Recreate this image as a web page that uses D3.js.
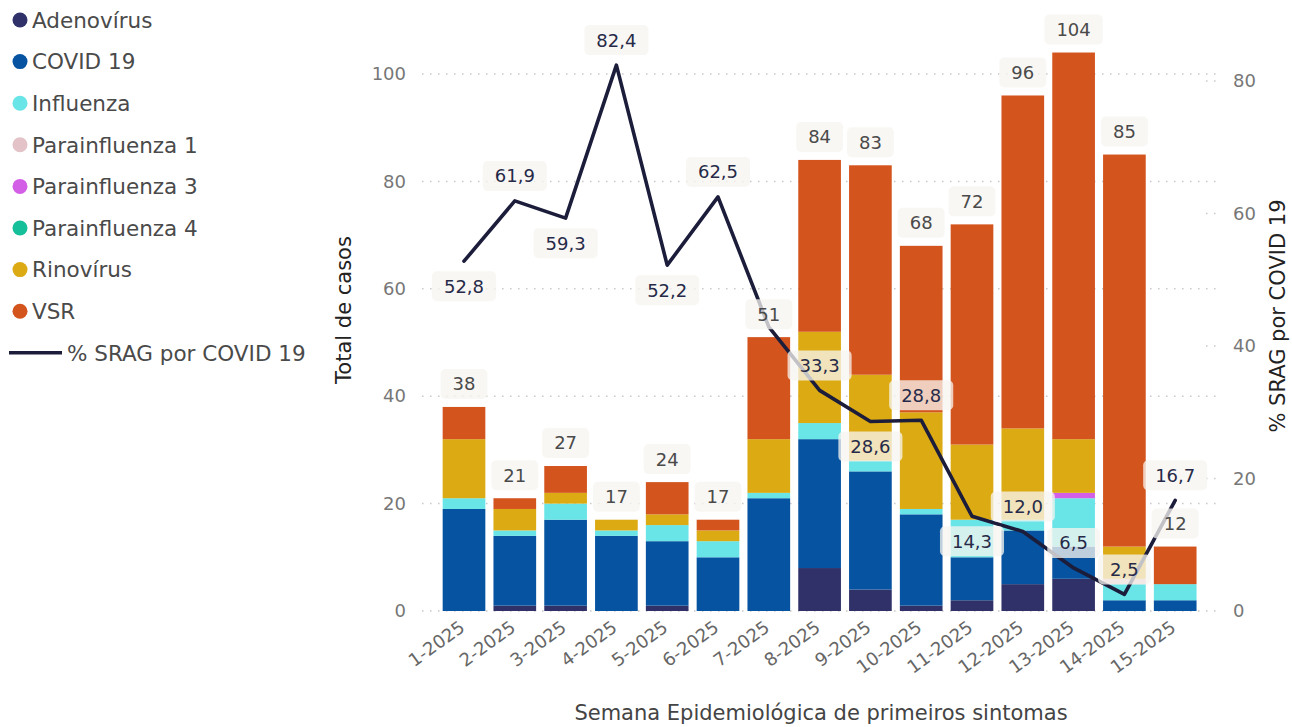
<!DOCTYPE html>
<html>
<head>
<meta charset="utf-8">
<script src="https://cdn.jsdelivr.net/npm/d3@7"></script>
<style>
  html, body { margin: 0; padding: 0; background: #fff; }
  svg { display: block; font-family: "DejaVu Sans", Verdana, sans-serif; }
</style>
</head>
<body>
<svg id="chart" width="1292" height="727"></svg>
<script>
// ---- data ----
const weeks = ["1-2025","2-2025","3-2025","4-2025","5-2025","6-2025","7-2025","8-2025","9-2025","10-2025","11-2025","12-2025","13-2025","14-2025","15-2025"];
const adenovirus     = [0, 1, 1, 0, 1, 0, 0, 8, 4, 1, 2, 5, 6, 0, 0];
const covid19        = [19,13,16,14,12,10,21,24,22,17, 8,10, 6, 2, 2];
const influenza      = [2, 1, 3, 1, 3, 3, 1, 3, 2, 1, 7, 2, 9, 3, 3];
const parainfluenza1 = [0, 0, 0, 0, 0, 0, 0, 0, 0, 0, 0, 0, 0, 1, 0];
const parainfluenza3 = [0, 0, 0, 0, 0, 0, 0, 0, 0, 0, 0, 0, 1, 0, 0];
const parainfluenza4 = [0, 0, 0, 0, 0, 0, 0, 0, 0, 0, 0, 0, 0, 0, 0];
const rinovirus      = [11,4, 2, 2, 2, 2,10,17,16,18,14,17,10, 6, 0];
const vsr            = [6, 2, 5, 0, 6, 2,19,32,39,31,41,62,72,73, 7];
const pctCovid       = [52.8,61.9,59.3,82.4,52.2,62.5,42.9,33.3,28.6,28.8,14.3,12.0,6.5,2.5,16.7];
const leftTicks  = [0,20,40,60,80,100];
const rightTicks = [0,20,40,60,80];

// label placement for line labels: 1 below, -1 above, 0 hidden
const pctLabelSide = [1,-1,1,-1,1,-1,0,-1,1,-1,1,-1,-1,-1,-1];

const seriesNames  = ["Adenovírus","COVID 19","Influenza","Parainfluenza 1","Parainfluenza 3","Parainfluenza 4","Rinovírus","VSR"];
const seriesValues = [adenovirus, covid19, influenza, parainfluenza1, parainfluenza3, parainfluenza4, rinovirus, vsr];
const seriesColors = ["#2f3168","#0553a1","#69e4e7","#e3c3c8","#d35fe6","#14bf99","#dcaa13","#d4541e"];
const lineName  = "% SRAG por COVID 19";
const lineColor = "#1c1d3b";

// ---- build table ----
const rows = weeks.map((w, i) => {
  const r = { week: w };
  seriesNames.forEach((s, k) => r[s] = seriesValues[k][i]);
  r.total = seriesValues.reduce((a, arr) => a + arr[i], 0);
  r.pct = pctCovid[i];
  r.side = pctLabelSide[i];
  return r;
});

const svg = d3.select("#chart");
const x = d3.scaleBand().domain(weeks).range([438.6, 1200.6]).paddingInner(0.16).paddingOuter(0.08);
const y = d3.scaleLinear().domain([0, 100]).range([611, 74]);
const yR = d3.scaleLinear().domain([0, 80]).range([611, 81]);

const fmt = v => d3.format(".1f")(v).replace(".", ",");

// gridlines (left axis)
svg.append("g").selectAll("line").data(leftTicks).join("line")
  .attr("x1", 422).attr("x2", 1217)
  .attr("y1", d => y(d)).attr("y2", d => y(d))
  .attr("stroke", "#c8c8c8").attr("stroke-width", 1.5)
  .attr("stroke-dasharray", "1.5,6.5");
// short right-axis grid stubs
svg.append("g").selectAll("line").data(rightTicks.filter(d => d > 0)).join("line")
  .attr("x1", 1206).attr("x2", 1218)
  .attr("y1", d => yR(d)).attr("y2", d => yR(d))
  .attr("stroke", "#c8c8c8").attr("stroke-width", 1.5)
  .attr("stroke-dasharray", "1.5,6.5");

// left axis
const gL = svg.append("g").attr("transform", "translate(408,0)")
  .call(d3.axisLeft(y).tickValues(leftTicks).tickSize(0).tickPadding(2));
gL.select(".domain").remove();
gL.selectAll("text").attr("font-size", 18).attr("fill", "#777").attr("font-family", "DejaVu Sans");

// right axis
const gR = svg.append("g").attr("transform", "translate(1231,0)")
  .call(d3.axisRight(yR).tickValues(rightTicks).tickSize(0).tickPadding(2));
gR.select(".domain").remove();
gR.selectAll("text").attr("font-size", 18).attr("fill", "#777").attr("font-family", "DejaVu Sans");

// x axis labels
const gX = svg.append("g").attr("transform", "translate(0,611)")
  .call(d3.axisBottom(x).tickSize(0).tickPadding(0));
gX.select(".domain").remove();
gX.selectAll("text")
  .attr("font-size", 18).attr("fill", "#666").attr("font-family", "DejaVu Sans")
  .attr("text-anchor", "end")
  .attr("transform", "translate(-6,8) rotate(-36)")
  .attr("dy", "0.75em").attr("y", 0).attr("x", 0);

// axis titles
svg.append("text").attr("transform", "translate(351,310) rotate(-90)")
  .attr("text-anchor", "middle").attr("font-size", 21).attr("fill", "#222")
  .text("Total de casos");
svg.append("text").attr("transform", "translate(1285,316) rotate(-90)")
  .attr("text-anchor", "middle").attr("font-size", 21).attr("fill", "#222")
  .text(lineName);
svg.append("text").attr("x", 821).attr("y", 720)
  .attr("text-anchor", "middle").attr("font-size", 21).attr("fill", "#444")
  .text("Semana Epidemiológica de primeiros sintomas");

// stacked bars
const stack = d3.stack().keys(seriesNames)(rows);
svg.append("g").selectAll("g").data(stack).join("g")
  .attr("fill", (d, i) => seriesColors[i])
  .selectAll("rect").data(d => d).join("rect")
  .attr("x", d => x(d.data.week))
  .attr("width", x.bandwidth())
  .attr("y", d => y(d[1]))
  .attr("height", d => Math.max(0, y(d[0]) - y(d[1])));

// line
const line = d3.line().x(d => x(d.week) + x.bandwidth() / 2).y(d => yR(d.pct));
svg.append("path").datum(rows).attr("d", line)
  .attr("fill", "none").attr("stroke", lineColor).attr("stroke-width", 3.6)
  .attr("stroke-linejoin", "round").attr("stroke-linecap", "round");

// label helper
function addLabel(g, cx, cy, txt, color) {
  const t = g.append("text").attr("x", cx).attr("y", cy).attr("dy", "0.36em")
    .attr("text-anchor", "middle").attr("font-size", 18).attr("fill", color).text(txt);
  const w = t.node().getComputedTextLength();
  g.insert("rect", "text:last-child")
    .attr("x", cx - w / 2 - 12).attr("y", cy - 15).attr("width", w + 24).attr("height", 30)
    .attr("rx", 5).attr("fill", "#f7f5f0").attr("fill-opacity", 0.76);
}

// bar total labels
const gT = svg.append("g");
rows.forEach(r => {
  const g = gT.append("g");
  addLabel(g, x(r.week) + x.bandwidth() / 2, y(r.total) - 23, String(r.total), "#4a4a4a");
});
// line labels
const gP = svg.append("g");
rows.forEach(r => {
  if (r.side === 0) return;
  const g = gP.append("g");
  addLabel(g, x(r.week) + x.bandwidth() / 2, yR(r.pct) + r.side * 25, fmt(r.pct), "#262a48");
});

// legend
const lg = svg.append("g");
seriesNames.forEach((s, i) => {
  const cy = 20 + i * 41.6;
  lg.append("circle").attr("cx", 20).attr("cy", cy).attr("r", 7.5).attr("fill", seriesColors[i]);
  lg.append("text").attr("x", 32).attr("y", cy).attr("dy", "0.36em")
    .attr("font-size", 21.5).attr("fill", "#4a4a4a").text(s);
});
const ly = 20 + seriesNames.length * 41.6;
lg.append("line").attr("x1", 9).attr("x2", 62).attr("y1", ly).attr("y2", ly)
  .attr("stroke", lineColor).attr("stroke-width", 3.6);
lg.append("text").attr("x", 67).attr("y", ly).attr("dy", "0.36em")
  .attr("font-size", 21.5).attr("fill", "#4a4a4a").text(lineName);
</script>
</body>
</html>
